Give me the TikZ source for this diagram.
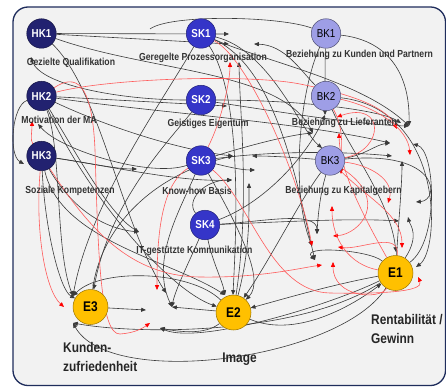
\documentclass[tikz,border=0pt]{standalone}
\usepackage{fontspec}
\setmainfont{Liberation Sans}[FakeStretch=0.85]
\usetikzlibrary{arrows.meta}
\definecolor{bgc}{HTML}{F2F2F2}
\definecolor{framec}{HTML}{1F2D5C}
\definecolor{hkc}{HTML}{222270}
\definecolor{skc}{HTML}{3535C8}
\definecolor{bkc}{HTML}{9E9EE6}
\definecolor{ec}{HTML}{FFC000}
\definecolor{linec}{HTML}{3A3A3A}
\definecolor{redc}{HTML}{FF5A5A}
\pgfdeclarelayer{bg}
\pgfdeclarelayer{edges}
\pgfsetlayers{bg,edges,main}
\tikzset{
 ln/.style={draw=linec, line width=0.6pt, -{Triangle[length=4.8pt,width=4pt]}},
 lnn/.style={draw=linec, line width=0.6pt},
 rl/.style={draw=redc, line width=0.6pt, -{Triangle[length=4.8pt,width=4pt,color=red]}},
 hk/.style={circle, fill=hkc, draw=hkc!60!black, line width=0.5pt, minimum size=29.5pt, inner sep=0pt, text=white, font=\fontsize{11.5}{11.5}\selectfont\bfseries},
 sk/.style={hk, fill=skc, draw=skc!60!black},
 bk/.style={hk, fill=bkc, draw=bkc!50!black, text=black, font=\fontsize{11.5}{11.5}\selectfont},
 en/.style={circle, fill=ec, draw=ec!60!black, line width=0.5pt, minimum size=35pt, inner sep=0pt, font=\fontsize{14}{14}\selectfont\bfseries},
 lab/.style={font=\fontsize{10.2}{11}\selectfont\bfseries, text=black!80, inner sep=0pt},
 big/.style={font=\fontsize{14}{19}\selectfont\bfseries, align=left, inner sep=0pt, text=black!85},
}
\begin{document}
\begin{tikzpicture}[x=1pt,y=-1pt]
\useasboundingbox (0,0) rectangle (446,387);
\begin{pgfonlayer}{bg}
\fill[white] (0,0) rectangle (446,387);
\draw[fill=bgc, draw=framec, line width=1.3pt, rounded corners=15pt] (13,7) rectangle (445.5,385.5);
\end{pgfonlayer}
% nodes
\node[hk] (HK1) at (41.5,33.5) {HK1};
\node[hk] (HK2) at (41.5,96) {HK2};
\node[hk] (HK3) at (41.5,156) {HK3};
\node[sk] (SK1) at (201,33.5) {SK1};
\node[sk] (SK2) at (201,100) {SK2};
\node[sk] (SK3) at (201,160.5) {SK3};
\node[sk] (SK4) at (205,225) {SK4};
\node[bk] (BK1) at (326,33.5) {BK1};
\node[bk] (BK2) at (326,96) {BK2};
\node[bk] (BK3) at (330,160.5) {BK3};
\node[en] (E1) at (395.5,273) {E1};
\node[en] (E2) at (233.5,312.5) {E2};
\node[en] (E3) at (90.5,307) {E3};
% labels
\node[lab] (lHK1) at (71,62.5) {Gezielte Qualifikation};
\node[lab] (lSK1) at (203,57.5) {Geregelte Prozessorganisation};
\node[lab] (lBK1) at (359.5,55) {Beziehung zu Kunden und Partnern};
\node[lab] (lHK2) at (59,119.5) {Motivation der MA};
\node[lab] (lSK2) at (208,123.5) {Geistiges Eigentum};
\node[lab] (lBK2) at (344.5,122.5) {Beziehung zu Lieferanten};
\node[lab] (lHK3) at (70,190.5) {Soziale Kompetenzen};
\node[lab] (lSK3) at (197,190.5) {Know-how Basis};
\node[lab] (lBK3) at (343.5,190.5) {Beziehung zu Kapitalgebern};
\node[lab] (lSK4) at (194.5,250.5) {IT-gestützte Kommunikation};
\node[big, anchor=north west] (lE3) at (63,342) {Kunden-\\zufriedenheit};
\node[big] (lE2) at (239.5,359) {Image};
\node[big, anchor=north west] (lE1) at (371,314) {Rentabilität /\\Gewinn};
% free ends
\coordinate (tA) at (229,34);  \coordinate (tB) at (229,44);  \coordinate (tC) at (254,44);
\coordinate (tD) at (239,62);  \coordinate (tE) at (230,62);  \coordinate (tF) at (227,106);
\coordinate (tG) at (409,126); \coordinate (tH) at (401,123); \coordinate (tI) at (397,129);
\coordinate (tJ) at (337,117); \coordinate (tK) at (325,115); \coordinate (tL) at (390,143);
\coordinate (tM) at (413,144); \coordinate (tN) at (392,156); \coordinate (tO) at (402,161);
\coordinate (tP) at (410,155); \coordinate (tQ) at (233,156); \coordinate (tR) at (252,156);
\coordinate (tS) at (232,180); \coordinate (tT) at (255,170); \coordinate (tU) at (249,183);
\coordinate (tW) at (388,203); \coordinate (tX) at (416,202); \coordinate (tY) at (399,221);
\coordinate (tZ) at (408,217); \coordinate (ta) at (317,234); \coordinate (tb) at (333,236);
\coordinate (tc) at (312,246); \coordinate (td) at (338,247); \coordinate (te) at (322,265);
\coordinate (tf) at (315,260); \coordinate (tg) at (333,262); \coordinate (th) at (416,267);
\coordinate (ti) at (396,252); \coordinate (tj) at (402,248); \coordinate (tk) at (418,277);
\coordinate (tl) at (64,307);  \coordinate (tm) at (73,296);  \coordinate (tn) at (73,323);
\coordinate (to) at (146,310); \coordinate (tp) at (150,323); \coordinate (tq) at (157,290);
\coordinate (tr) at (166,293); \coordinate (ts) at (172,307); \coordinate (tt) at (160,328);
\coordinate (tu) at (225,295); \coordinate (tv) at (233,295); \coordinate (tw) at (31,57);
\coordinate (tx) at (32,121);  \coordinate (ty) at (38,124);  \coordinate (tz) at (24,164);
\coordinate (t1) at (137,169); \coordinate (t2) at (139,232); \coordinate (t4) at (339,133);
\coordinate (t5) at (313,133); \coordinate (t6) at (322,148); \coordinate (t7) at (341,174);
\coordinate (t8) at (332,206); \coordinate (tTop) at (150,29);
\begin{pgfonlayer}{edges}
% black connectors
\draw[ln] (HK1) -- (tA);
\draw[ln] (HK1) -- (tB);
\draw[ln] (HK1) .. controls (100,90) and (120,220) .. (tr);
\draw[ln] (HK1) .. controls (150,72) and (280,70) .. (t5);
\draw[ln] (HK2) -- (tF);
\draw[ln] (HK2) .. controls (150,112) and (300,122) .. (tL);
\draw[ln] (HK2) .. controls (110,128) and (180,150) .. (tQ);
\draw[ln] (HK2) .. controls (80,160) and (110,215) .. (t2);
\draw[ln] (HK2) .. controls (90,200) and (170,290) .. (E2);
\draw[ln] (HK2) .. controls (12,105) and (8,155) .. (tz);
\draw[ln] (HK2) .. controls (62,150) and (55,250) .. (tm);
\draw[ln] (HK3) .. controls (90,163) and (115,169) .. (t1);
\draw[ln] (HK3) .. controls (120,168) and (180,182) .. (tS);
\draw[ln] (HK3) .. controls (70,205) and (100,228) .. (t2);
\draw[ln] (HK3) .. controls (60,240) and (170,260) .. (tu);
\draw[ln] (HK3) .. controls (45,230) and (60,290) .. (E3);
\draw[ln] (SK2) .. controls (120,100) and (40,85) .. (tw);
\draw[ln] (SK1) .. controls (170,90) and (90,200) .. (tm);
\draw[ln] (SK1) .. controls (260,60) and (360,80) .. (tG);
\draw[lnn] (BK1) .. controls (280,16) and (170,14) .. (tTop);
\draw[ln] (E2) .. controls (250,200) and (240,120) .. (tD);
\draw[ln] (SK1) .. controls (245,100) and (235,250) .. (tv);
\draw[ln] (SK1) .. controls (280,70) and (300,200) .. (tf);
\draw[ln] (SK2) .. controls (170,140) and (110,200) .. (E3);
\draw[ln] (SK2) .. controls (280,112) and (360,125) .. (tG);
\draw[ln] (SK2) .. controls (300,100) and (380,110) .. (tH);
\draw[ln] (SK3) .. controls (225,166) and (240,170) .. (tT);
\draw[ln] (SK3) .. controls (280,150) and (350,152) .. (tN);
\draw[ln] (SK3) .. controls (180,210) and (150,260) .. (ts);
\draw[ln] (SK3) .. controls (150,178) and (60,150) .. (ty);
\draw[ln] (SK3) .. controls (250,145) and (290,135) .. (t5);
\draw[ln] (SK3) .. controls (240,230) and (265,280) .. (E2);
\draw[ln] (SK4) .. controls (260,222) and (317,210) .. (ta);
\draw[ln] (SK4) .. controls (280,222) and (350,218) .. (tY);
\draw[ln] (SK4) .. controls (212,260) and (222,280) .. (tu);
\draw[ln] (SK4) .. controls (190,260) and (175,290) .. (ts);
\draw[ln] (SK4) .. controls (185,200) and (205,180) .. (tS);
\draw[ln] (SK4) .. controls (270,200) and (310,150) .. (tK);
\draw[ln] (E3) .. controls (100,230) and (150,175) .. (tQ);
\draw[ln] (BK1) .. controls (385,40) and (410,70) .. (tG);
\draw[ln] (BK1) .. controls (325,60) and (325,90) .. (tK);
\draw[ln] (BK1) .. controls (300,90) and (290,190) .. (tc);
\draw[ln] (BK2) .. controls (300,70) and (285,45) .. (tC);
\draw[ln] (BK2) .. controls (445,110) and (440,250) .. (th);
\draw[ln] (BK2) .. controls (350,150) and (390,200) .. (ti);
\draw[ln] (BK3) .. controls (300,158) and (275,156) .. (tR);
\draw[ln] (E2) .. controls (250,250) and (249,215) .. (tU);
\draw[ln] (BK3) .. controls (365,155) and (375,145) .. (tL);
\draw[ln] (BK3) .. controls (440,150) and (440,200) .. (tX);
\draw[ln] (BK3) .. controls (300,200) and (270,260) .. (E2);
\draw[ln] (BK3) .. controls (320,195) and (318,215) .. (ta);
\draw[ln] (E1) .. controls (340,360) and (110,390) .. (tn);
\draw[ln] (E1) .. controls (330,305) and (200,345) .. (tt);
\draw[ln] (E1) .. controls (330,285) and (280,300) .. (E2);
\draw[ln] (E1) .. controls (370,250) and (300,245) .. (tf);
\draw[ln] (E1) .. controls (420,235) and (410,225) .. (tZ);
\draw[ln] (E1) .. controls (398,230) and (402,185) .. (tO);
\draw[ln] (E2) -- (ts);
\draw[ln] (E2) .. controls (190,270) and (100,268) .. (tm);
\draw[ln] (E2) .. controls (300,340) and (360,300) .. (E1);
\draw[ln] (E3) -- (to);
\draw[ln] (E1) .. controls (300,335) and (140,335) .. (tn);
\draw[ln] (E2) .. controls (205,335) and (180,332) .. (tt);
\draw[ln] (E1) .. controls (440,240) and (435,150) .. (tM);
\draw[ln] (SK1) .. controls (270,50) and (300,130) .. (t6);
% red connectors
\draw[rl] (HK2) .. controls (110,78) and (250,74) .. (300,84) .. controls (345,93) and (385,105) .. (tI);
\draw[rl] (HK2) .. controls (75,74) and (92,80) .. (95,150) .. controls (98,250) and (100,335) .. (120,334) .. controls (135,333) and (143,328) .. (tp);
\draw[rl] (HK3) .. controls (35,230) and (45,290) .. (tl);
\draw[rl] (HK3) .. controls (30,140) and (32,132) .. (tx);
\draw[rl] (HK3) .. controls (90,230) and (130,276) .. (200,277) .. controls (260,278) and (300,268) .. (te);
\draw[rl] (SK3) .. controls (160,185) and (157,240) .. (tq);
\draw[rl] (SK3) .. controls (222,120) and (230,80) .. (tE);
\draw[rl] (SK1) .. controls (250,60) and (300,180) .. (tc);
\draw[rl] (SK3) .. controls (250,200) and (270,292) .. (330,293) .. controls (380,294) and (425,292) .. (tk);
\draw[rl] (E1) .. controls (380,300) and (333,298) .. (tg);
\draw[rl] (BK3) .. controls (385,150) and (385,100) .. (tJ);
\draw[rl] (BK2) .. controls (380,108) and (408,130) .. (tP);
\draw[rl] (BK3) .. controls (370,165) and (395,180) .. (tW);
\draw[rl] (BK3) .. controls (370,200) and (402,215) .. (tj);
\draw[rl] (E1) .. controls (400,230) and (360,250) .. (td);
\draw[rl] (BK3) .. controls (390,200) and (360,234) .. (tb);
\draw[rl] (E1) .. controls (350,265) and (332,240) .. (t8);
\draw[rl] (E1) .. controls (360,210) and (340,170) .. (t4);
\draw[rl] (BK2) .. controls (345,130) and (341,150) .. (t7);
\end{pgfonlayer}
\end{tikzpicture}
\end{document}
